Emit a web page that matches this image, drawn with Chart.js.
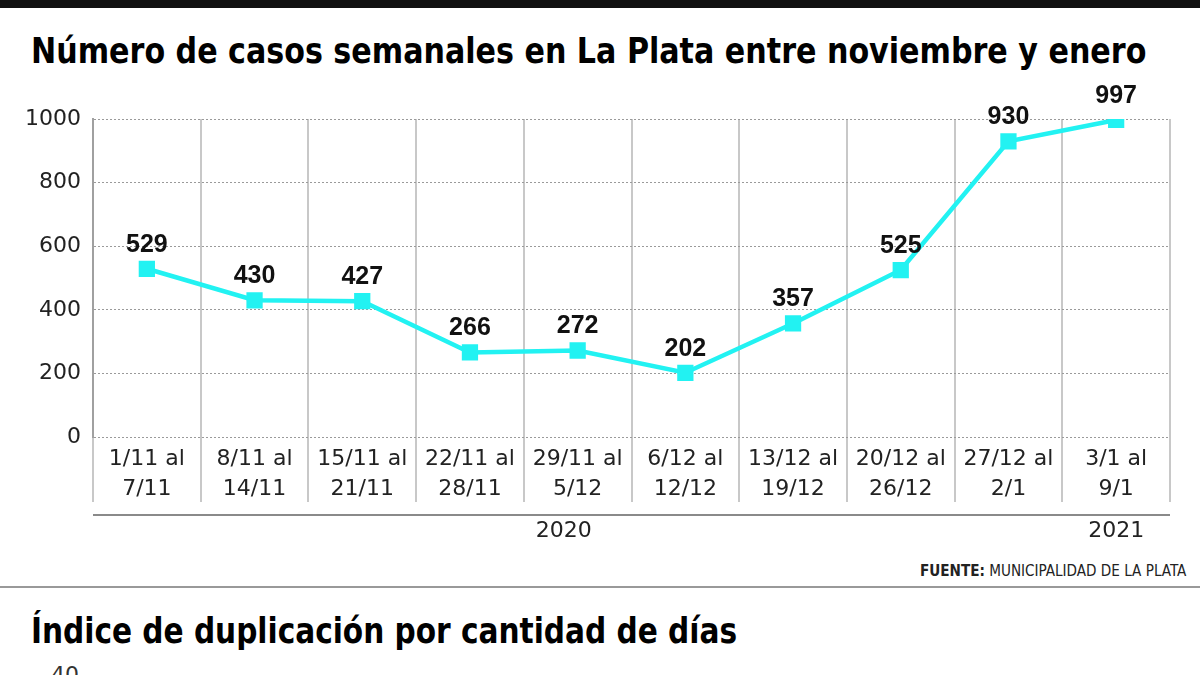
<!DOCTYPE html>
<html>
<head>
<meta charset="utf-8">
<script src="https://cdn.jsdelivr.net/npm/chart.js@4.4.1/dist/chart.umd.min.js"></script>
<style>
  html, body { margin: 0; padding: 0; background: #fff; }
  body { width: 1200px; height: 675px; position: relative; overflow: hidden; font-family: "Liberation Sans", Arial, sans-serif; }
  #topbar { position: absolute; left: 0; top: 0; width: 1200px; height: 8px; background: #111; }
  .titulo { position: absolute; left: 31px; font-family: "Liberation Sans Narrow", "DejaVu Sans Condensed", sans-serif; font-weight: bold; font-size: 35px; color: #000; white-space: nowrap; transform-origin: left top; line-height: 1; }
  #titulo1 { top: 34px; }
  #titulo2 { top: 614px; }
  #fuente { position: absolute; left: 920px; top: 561px; font-size: 16px; color: #222; white-space: nowrap; font-family: "Liberation Sans Narrow", "DejaVu Sans Condensed", sans-serif; transform-origin: left top; }
  #sep { position: absolute; left: 0; top: 586px; width: 1200px; height: 2px; background: #999; }
  #cuarenta { position: absolute; left: 51px; top: 662px; font-size: 22px; color: #333; font-family: "DejaVu Sans", sans-serif; }
  #wrap { position: absolute; left: 0; top: 60px; width: 1200px; height: 500px; }
</style>
</head>
<body>
<div id="topbar"></div>
<div id="titulo1" class="titulo">Número de casos semanales en La Plata entre noviembre y enero</div>
<div id="wrap"><canvas id="grafico"></canvas></div>
<div id="fuente"><b>FUENTE:</b> MUNICIPALIDAD DE LA PLATA</div>
<div id="sep"></div>
<div id="titulo2" class="titulo">Índice de duplicación por cantidad de días</div>
<div id="cuarenta">40</div>
<script>
// semanas (etiquetas del eje x, en dos renglones)
const semanas = [
  ['1/11 al', '7/11'], ['8/11 al', '14/11'], ['15/11 al', '21/11'], ['22/11 al', '28/11'],
  ['29/11 al', '5/12'], ['6/12 al', '12/12'], ['13/12 al', '19/12'], ['20/12 al', '26/12'],
  ['27/12 al', '2/1'], ['3/1 al', '9/1']
];
// casos semanales
const casos = [529, 430, 427, 266, 272, 202, 357, 525, 930, 997];
// años: desde el índice, hasta el índice
const anios = [
  { texto: '2020', desde: 0, hasta: 8 },
  { texto: '2021', desde: 9, hasta: 9 }
];
const yTicks = [0, 200, 400, 600, 800, 1000];

// ajustar ancho de los textos
function ajustar(id, ancho) {
  const el = document.getElementById(id);
  const w = el.offsetWidth;
  el.style.transform = 'scaleX(' + (ancho / w) + ')';
}
ajustar('titulo1', 1115);
ajustar('titulo2', 706);
ajustar('fuente', 266);

const CYAN = '#22F2F2';
const FUENTE_EJES = '"DejaVu Sans", sans-serif';

// etiquetas de valores sobre cada punto
const etiquetasValores = {
  id: 'etiquetasValores',
  afterDatasetsDraw(chart) {
    const ctx = chart.ctx;
    const meta = chart.getDatasetMeta(0);
    ctx.save();
    ctx.font = 'bold 25px "Liberation Sans", Arial, sans-serif';
    ctx.fillStyle = '#111';
    ctx.textAlign = 'center';
    ctx.textBaseline = 'middle';
    meta.data.forEach((p, i) => {
      ctx.fillText(String(casos[i]), p.x, p.y - 24);
    });
    ctx.restore();
  }
};

// línea de años debajo de las etiquetas
const lineaAnios = {
  id: 'lineaAnios',
  afterDraw(chart) {
    const ctx = chart.ctx;
    const x = chart.scales.x;
    const area = chart.chartArea;
    const yLinea = area.bottom + 78;
    ctx.save();
    ctx.strokeStyle = '#8a8a8a';
    ctx.lineWidth = 2;
    ctx.beginPath();
    ctx.moveTo(area.left, yLinea);
    ctx.lineTo(area.right, yLinea);
    ctx.stroke();
    const paso = x.getPixelForValue(1) - x.getPixelForValue(0);
    ctx.font = '22px ' + FUENTE_EJES;
    ctx.fillStyle = '#222';
    ctx.textAlign = 'center';
    ctx.textBaseline = 'middle';
    anios.forEach(a => {
      const x0 = x.getPixelForValue(a.desde) - paso / 2;
      const x1 = x.getPixelForValue(a.hasta) + paso / 2;
      const cx = a.hasta === a.desde ? (x0 + x1) / 2 : (x0 + x1) / 2 - 14;
      ctx.fillText(a.texto, cx, yLinea + 16);
    });
    ctx.restore();
  }
};

new Chart(document.getElementById('grafico'), {
  type: 'line',
  data: {
    labels: semanas,
    datasets: [{
      data: casos,
      borderColor: CYAN,
      backgroundColor: CYAN,
      borderWidth: 4.5,
      pointStyle: 'rect',
      pointRadius: 11.5,
      pointHoverRadius: 11.5,
      pointBorderWidth: 0,
      tension: 0
    }]
  },
  options: {
    responsive: true,
    maintainAspectRatio: false,
    animation: false,
    layout: { padding: { top: 59, right: 30, left: 0, bottom: 0 } },
    plugins: { legend: { display: false }, tooltip: { enabled: false } },
    scales: {
      x: {
        offset: true,
        grid: {
          offset: true,
          color: '#c8c8c8',
          lineWidth: 2,
          drawTicks: true,
          tickLength: 65
        },
        border: { display: false },
        ticks: {
          color: '#222',
          padding: -58,
          maxRotation: 0,
          autoSkip: false,
          font: { size: 22, family: FUENTE_EJES, lineHeight: 1.36 }
        },
        afterFit(scale) { scale.height = 123; }
      },
      y: {
        min: 0,
        max: 1000,
        afterBuildTicks(scale) { scale.ticks = yTicks.map(v => ({ value: v })); },
        grid: {
          color: '#9a9a9a',
          lineWidth: 1,
          drawTicks: false
        },
        border: { display: true, color: '#a0a0a0', width: 2, dash: [2, 2] },
        ticks: {
          color: '#222',
          padding: 12,
          font: { size: 22, family: FUENTE_EJES },
          callback: v => String(v)
        },
        afterFit(scale) { scale.width = 93; }
      }
    }
  },
  plugins: [etiquetasValores, lineaAnios]
});
</script>
</body>
</html>
